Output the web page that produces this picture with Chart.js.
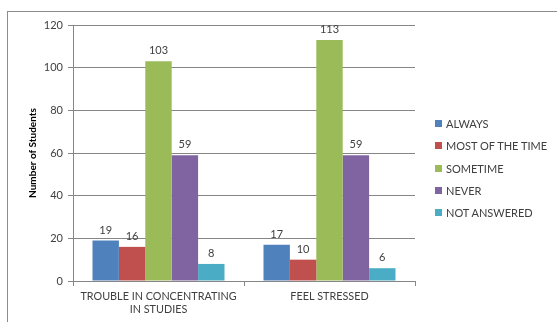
<!DOCTYPE html>
<html>
<head>
<meta charset="utf-8">
<script src="https://cdn.jsdelivr.net/npm/chart.js@4"></script>
<style>
  html, body { margin: 0; padding: 0; background: #fff; }
  #wrap { position: relative; width: 557px; height: 322px; overflow: hidden; }
  #frame { position: absolute; left: 7px; top: 11px; width: 600px; height: 400px; border: 1px solid #8c8c8c; box-sizing: border-box; }
  canvas { position: absolute; left: 0; top: 0; }
  #legend { position: absolute; left: 435px; top: 117px; font-family: Lato, "Open Sans", sans-serif; font-size: 11px; color: #404040; }
  .item { height: 22.3px; display: flex; align-items: flex-start; white-space: nowrap; }
  .sw { width: 7px; height: 7px; margin-right: 4px; margin-top: 3px; }
</style>
</head>
<body>
<div id="wrap">
  <div id="frame"></div>
  <canvas id="c" width="557" height="322"></canvas>
  <div id="legend"></div>
</div>
<script>
const categories = [["TROUBLE IN CONCENTRATING", "IN STUDIES"], "FEEL STRESSED"];
const seriesNames = ["ALWAYS", "MOST OF THE TIME", "SOMETIME", "NEVER", "NOT ANSWERED"];
const always = [19, 17];
const mostOfTheTime = [16, 10];
const sometime = [103, 113];
const never = [59, 59];
const notAnswered = [8, 6];
const yTicks = [0, 20, 40, 60, 80, 100, 120];

const colors = ["#4F81BD", "#C0504D", "#9BBB59", "#8064A2", "#4BACC6"];
const values = [always, mostOfTheTime, sometime, never, notAnswered];

const datasets = seriesNames.map((n, i) => ({
  label: n, data: values[i], backgroundColor: colors[i],
  borderWidth: 0, barPercentage: 1.0, categoryPercentage: 0.772
}));

const labelPlugin = {
  id: 'vals',
  afterDatasetsDraw(chart) {
    const ctx = chart.ctx;
    ctx.save();
    ctx.font = '11px Lato, "Open Sans", sans-serif';
    ctx.fillStyle = '#404040';
    ctx.textAlign = 'center';
    ctx.textBaseline = 'bottom';
    chart.data.datasets.forEach((ds, di) => {
      chart.getDatasetMeta(di).data.forEach((bar, i) => {
        ctx.fillText(String(ds.data[i]), bar.x, bar.y - 5);
      });
    });
    ctx.restore();
  }
};

const font = { family: 'Lato, "Open Sans", sans-serif', size: 10.8 };

new Chart(document.getElementById('c'), {
  type: 'bar',
  data: { labels: categories, datasets },
  options: {
    responsive: false, animation: false, devicePixelRatio: 1,
    layout: { padding: { left: 0, right: 142, top: 25, bottom: 0 } },
    plugins: { legend: { display: false }, tooltip: { enabled: false } },
    scales: {
      x: {
        grid: { display: true, drawOnChartArea: false, drawTicks: true, tickLength: 5, color: '#868686', offset: true },
        border: { color: '#868686' },
        ticks: { color: '#404040', font, padding: 4, maxRotation: 0 },
        afterFit(s) { s.height = 41; }
      },
      y: {
        min: 0, max: 120,
        afterBuildTicks(s) { s.ticks = yTicks.map(v => ({ value: v })); },
        grid: { color: '#868686', tickLength: 5 },
        border: { color: '#868686' },
        ticks: { color: '#404040', font: { family: 'Lato, "Open Sans", sans-serif', size: 11 }, padding: 5 },
        title: { display: true, text: 'Number of Students', color: '#000', font: { family: 'Lato, "Open Sans", sans-serif', size: 10, weight: 'bold' }, padding: { top: 27, bottom: 0 } },
        afterFit(s) { s.width = 73; }
      }
    }
  },
  plugins: [labelPlugin]
});

const lg = document.getElementById('legend');
seriesNames.forEach((n, i) => {
  const d = document.createElement('div'); d.className = 'item';
  const sw = document.createElement('div'); sw.className = 'sw'; sw.style.background = colors[i];
  const t = document.createElement('span'); t.textContent = n;
  d.appendChild(sw); d.appendChild(t); lg.appendChild(d);
});
</script>
</body>
</html>
